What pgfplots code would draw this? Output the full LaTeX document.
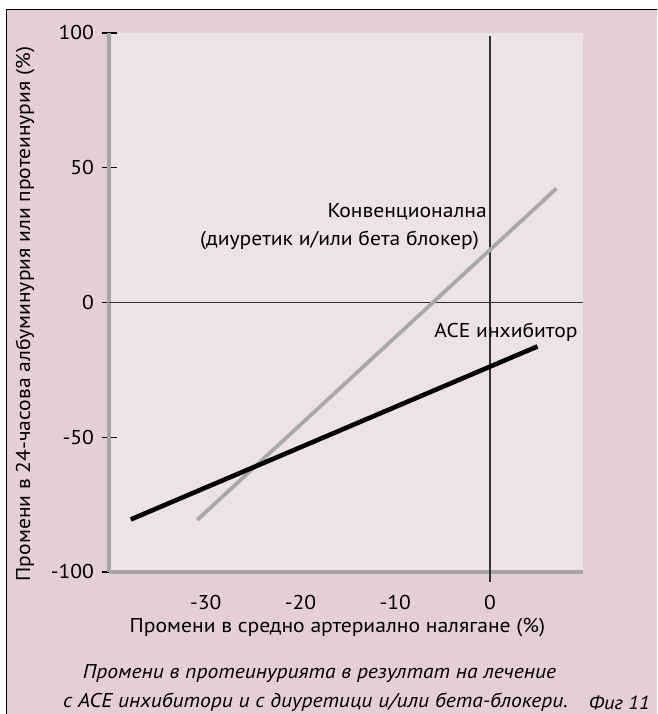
\documentclass[border=0pt]{standalone}
\usepackage{pgfplots}
\pgfplotsset{compat=1.18}
\usepackage{fontspec}
\setmainfont{PT Sans}[FakeStretch=1.08]
\definecolor{outerpink}{RGB}{227,207,212}
\definecolor{innerpink}{RGB}{239,226,229}
\definecolor{axisgray}{RGB}{165,165,165}
\definecolor{linegray}{RGB}{168,168,168}
\definecolor{zeroline}{RGB}{50,50,50}
\newcommand\fs{\fontsize{20}{24}\selectfont}
\begin{document}
\begin{tikzpicture}[x=1pt,y=1pt]
\useasboundingbox (0,0) rectangle (657,714);
\fill[white] (0,0) rectangle (657,714);
\fill[outerpink] (6,0) rectangle (657,705);
\draw[line width=1pt] (6.5,0) -- (6.5,704.5) -- (657,704.5);
\begin{axis}[at={(109pt,142pt)}, anchor=south west, scale only axis,
  width=474pt, height=539pt,
  xmin=-40.2, xmax=9.8, ymin=-100, ymax=100,
  axis x line*=bottom, axis y line*=left,
  axis line style={draw=axisgray, line width=3.5pt, -},
  axis background/.style={fill=innerpink},
  xtick={-30,-20,-10,0}, xticklabels={-30,-20,-10,0},
  ytick={-100,-50,0,50,100}, yticklabels={-100,-50,0,50,100},
  xtick style={draw=none},
  ytick style={draw=black, line width=1.3pt},
  major tick length=15pt, tick align=center,
  ticklabel style={font=\fs},
  xticklabel style={yshift=-12pt},
  yticklabel style={xshift=-4pt},
  clip=false]
\draw[zeroline, line width=1.5pt] (axis cs:0,98.8) -- ([yshift=-10pt]axis cs:0,-100);
\draw[zeroline, line width=1.5pt] (axis cs:-40.2,0) -- (axis cs:9.8,0);
\addplot[linegray, line width=3.8pt] coordinates {(-30.9,-80.7) (7.0,42.3)};
\addplot[black, line width=4.6pt] coordinates {(-37.9,-80.5) (5.0,-16.3)};
\end{axis}
\node[inner sep=0pt, anchor=east, font=\fs] at (487,502) {Конвенционална};
\node[inner sep=0pt, anchor=east, font=\fs] at (479,474) {(диуретик и/или бета блокер)};
\node[inner sep=0pt, font=\fs] at (506,382) {ACE инхибитор};
\node[inner sep=0pt, rotate=90, font=\fs] at (25,400) {Промени в 24-часова албуминурия или протеинурия (\%)};
\node[inner sep=0pt, font=\fs] at (337.5,86) {Промени в средно артериално налягане (\%)};
\node[inner sep=0pt, font=\fs\itshape] at (319.5,40) {Промени в протеинурията в резултат на лечение};
\node[inner sep=0pt, anchor=west, font=\fs\itshape] at (63,12) {с АСЕ инхибитори и с диуретици и/или бета-блокери.};
\node[inner sep=0pt, anchor=east, font=\fontsize{19}{22}\selectfont\itshape] at (650,11) {Фиг 11};
\end{tikzpicture}
\end{document}
